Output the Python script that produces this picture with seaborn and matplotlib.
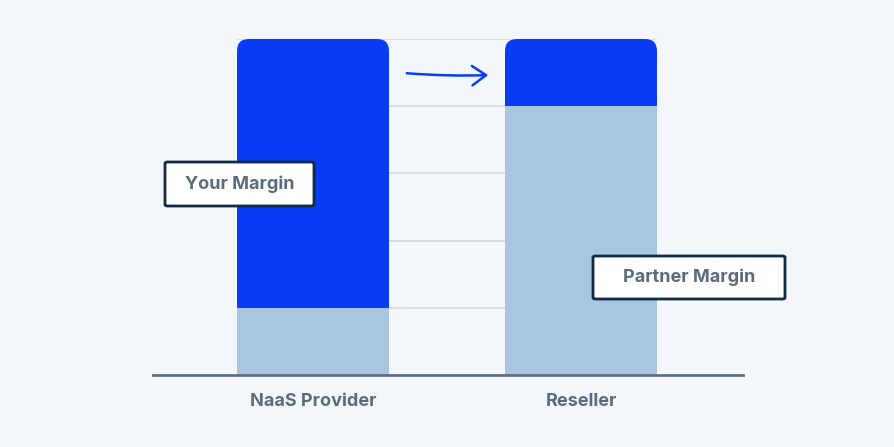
import matplotlib
matplotlib.use("Agg")
import matplotlib.pyplot as plt
import seaborn as sns
import pandas as pd
from matplotlib.patches import FancyBboxPatch
from matplotlib.transforms import IdentityTransform

categories = ["NaaS Provider", "Reseller"]
partner_share = [20, 80]   # light blue (bottom)
your_share = [80, 20]      # dark blue (top)
gridlines = [20, 40, 60, 80, 100]

BG = "#f3f7fb"
DARK = "#0a3cf5"
LIGHT = "#a9c6e0"
TEXT = "#5b6b7e"
EDGE = "#0f2b45"

sns.set_theme(style="white")
plt.rcParams["font.family"] = ["Inter", "DejaVu Sans"]

W, H = 894, 447
fig = plt.figure(figsize=(W / 100, H / 100), dpi=100, facecolor=BG)
ax = fig.add_axes([153 / W, 1 - 375 / H, (743 - 153) / W, (375 - 39) / H])
ax.set_facecolor(BG)

df = pd.DataFrame({
    "category": categories,
    "total": [p + y for p, y in zip(partner_share, your_share)],
    "partner": partner_share,
})

bw = 152 / 268
ax.set_xlim(-(313 - 153) / 268, 1 + (743 - 581) / 268)
ax.set_ylim(0, 100)

# gridlines only between bar extents
ax.hlines(gridlines, -bw / 2, 1 + bw / 2, color="#d3d8de", lw=1.2, zorder=0)

sns.barplot(data=df, x="category", y="total", color=DARK, width=bw,
            saturation=1, ax=ax, zorder=2, edgecolor="none")
n_top = len(ax.patches)
sns.barplot(data=df, x="category", y="partner", color=LIGHT, width=bw,
            saturation=1, ax=ax, zorder=3, edgecolor="none")
ax.set_xlim(-(313 - 153) / 268, 1 + (743 - 581) / 268)
ax.set_ylim(0, 100)

# rounded top corners on the full bars
for p in ax.patches[:n_top]:
    x0, y0 = p.get_x(), p.get_y()
    (dx0, dy0) = ax.transData.transform((x0, y0))
    (dx1, dy1) = ax.transData.transform((x0 + p.get_width(), y0 + p.get_height()))
    clip = FancyBboxPatch((dx0, dy0 - 30), dx1 - dx0, (dy1 - dy0) + 30,
                          boxstyle="round,pad=0,rounding_size=12",
                          transform=IdentityTransform())
    p.set_clip_path(clip)

for s in ["top", "right", "left"]:
    ax.spines[s].set_visible(False)
ax.spines["bottom"].set_color("#5e6e80")
ax.spines["bottom"].set_linewidth(2)
ax.spines["bottom"].set_zorder(5)
ax.set_yticks([])
ax.set_xlabel("")
ax.set_ylabel("")
ax.tick_params(axis="x", length=0, pad=13)
for lbl in ax.get_xticklabels():
    lbl.set_fontsize(13)
    lbl.set_fontweight("bold")
    lbl.set_color(TEXT)

# arrow
ax.annotate("", xy=((491 - 313) / 268, (375 - 75) / 336 * 100),
            xytext=((404 - 313) / 268, (375 - 73) / 336 * 100),
            arrowprops=dict(arrowstyle="->,head_length=0.5,head_width=0.35",
                            color=DARK, lw=1.8, mutation_scale=20,
                            connectionstyle="arc3,rad=0.03"),
            zorder=6)

# label boxes (in figure pixel coordinates)
def label_box(x0, y0, x1, y1, text):
    box = FancyBboxPatch((x0 / W, 1 - y1 / H), (x1 - x0) / W, (y1 - y0) / H,
                         boxstyle="round,pad=0,rounding_size=0.003",
                         transform=fig.transFigure, facecolor="white",
                         edgecolor=EDGE, linewidth=2, zorder=10)
    fig.patches.append(box)
    fig.text((x0 + x1) / 2 / W, 1 - (y0 + y1) / 2 / H, text,
             ha="center", va="center", fontsize=13, fontweight="bold",
             color=TEXT, zorder=11)

label_box(165, 162, 314, 206, "Your Margin")
label_box(593, 256, 785, 299, "Partner Margin")

fig.savefig("out.png", dpi=100, facecolor=BG)
